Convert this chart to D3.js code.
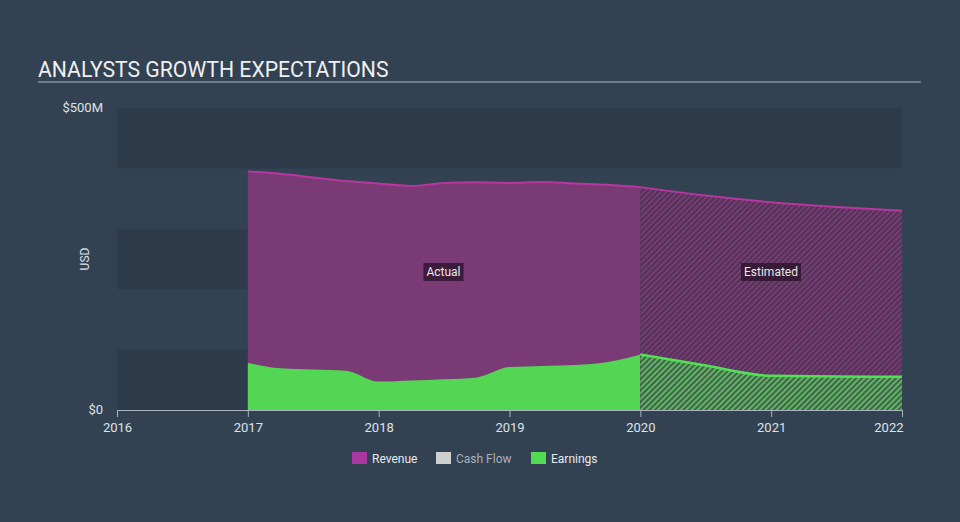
<!DOCTYPE html>
<html>
<head>
<meta charset="utf-8">
<script src="https://cdn.jsdelivr.net/npm/d3@7"></script>
<style>
html,body{margin:0;padding:0;background:#334252;}
svg{display:block;font-family:Roboto,"Open Sans",sans-serif;}
</style>
</head>
<body>
<svg id="chart" width="960" height="522"></svg>
<script>
// ---- data ----
const actualYears = [2017.0,2017.25,2017.5,2017.75,2018.0,2018.25,2018.5,2018.75,2019.0,2019.25,2019.5,2019.75,2020.0];
const actualRevenue = [395,391,385,379,375,371,376,377,376,377.5,375,373,369];
const actualEarnings = [78,69,67,65,47,49,51,54,71,73,74.5,79.5,92];
const estYears = [2020.0,2020.5,2021.0,2021.5,2022.0];
const estRevenue = [369,355,344,336,330];
const estEarnings = [92,73.5,56.5,55.5,55];
const xTicks = [2016,2017,2018,2019,2020,2021,2022];
const yTicks = [0,500];
const yTickLabels = ["$0","$500M"];
const legendNames = ["Revenue","Cash Flow","Earnings"];
const legendColors = ["#a9379f","#cfcfcf","#52dc52"];

(function(){
// ---- layout ----
const svg = d3.select("#chart");
const pL = 117, pR = 902, pT = 108, pB = 410;
const x = d3.scaleLinear().domain([2016,2022]).range([pL,pR]);
const y = d3.scaleLinear().domain([0,500]).range([pB,pT]);

// background
svg.append("rect").attr("width",960).attr("height",522).attr("fill","#334252");

// title
svg.append("text").attr("x",38).attr("y",77).attr("fill","#f0f0f0")
  .attr("font-size",21.2).text("ANALYSTS GROWTH EXPECTATIONS");
svg.append("line").attr("x1",38).attr("x2",921).attr("y1",82).attr("y2",82)
  .attr("stroke","#a9b3bf").attr("stroke-width",1.2);

// bands
const bandEdges = d3.range(0,501,100);
for (let i=0;i<5;i++){
  const v0 = bandEdges[i], v1 = bandEdges[i+1];
  svg.append("rect").attr("x",pL).attr("width",pR-pL)
    .attr("y",y(v1)).attr("height",y(v0)-y(v1))
    .attr("fill", (i%2===0) ? "#2e3b4b" : "#334252");
}

// patterns
const defs = svg.append("defs");
function hatch(id, bg, fg){
  const p = defs.append("pattern").attr("id",id).attr("patternUnits","userSpaceOnUse")
    .attr("width",4).attr("height",4).attr("patternTransform","rotate(45)");
  p.append("rect").attr("width",4).attr("height",4).attr("fill",bg);
  p.append("rect").attr("width",2).attr("height",4).attr("fill",fg);
}
hatch("hRev","#7a3a76","#4e3553");
hatch("hEarn","#5cb85e","#46604f");

const actual = actualYears.map((t,i)=>({t, r:actualRevenue[i], e:actualEarnings[i]}));
const est = estYears.map((t,i)=>({t, r:estRevenue[i], e:estEarnings[i]}));
const curve = d3.curveMonotoneX;

const areaR = d3.area().x(d=>x(d.t)).y0(y(0)).y1(d=>y(d.r)).curve(curve);
const areaE = d3.area().x(d=>x(d.t)).y0(y(0)).y1(d=>y(d.e)).curve(curve);
const lineR = d3.line().x(d=>x(d.t)).y(d=>y(d.r)).curve(curve);
const lineE = d3.line().x(d=>x(d.t)).y(d=>y(d.e)).curve(curve);

// actual
svg.append("path").datum(actual).attr("d",areaR).attr("fill","#7a3a76");
svg.append("path").datum(actual).attr("d",lineR).attr("fill","none").attr("stroke","#b8369f").attr("stroke-width",2);
svg.append("path").datum(actual).attr("d",areaE).attr("fill","#52d654");
// estimated
svg.append("path").datum(est).attr("d",areaR).attr("fill","url(#hRev)");
svg.append("path").datum(est).attr("d",lineR).attr("fill","none").attr("stroke","#b8369f").attr("stroke-width",2);
svg.append("path").datum(est).attr("d",areaE).attr("fill","url(#hEarn)");
svg.append("path").datum(est).attr("d",lineE).attr("fill","none").attr("stroke","#52e054").attr("stroke-width",2.5);

// x axis
const xAxis = d3.axisBottom(x).tickValues(xTicks).tickFormat(d3.format("d")).tickSize(7).tickSizeOuter(0);
const gx = svg.append("g").attr("transform",`translate(0,${pB})`).call(xAxis);
gx.select(".domain").attr("stroke","#aab4c0").attr("stroke-width",1.2);
gx.selectAll(".tick line").attr("stroke","#aab4c0");
gx.selectAll(".tick text").attr("fill","#dde2e8").attr("font-size",13).attr("dy","0.9em")
  .attr("font-family","Roboto,sans-serif");
gx.selectAll(".tick text").filter(d=>d===2022).attr("text-anchor","end").attr("dx","1px");

// y labels
svg.selectAll(".ylab").data(yTicks).enter().append("text")
  .attr("x",103).attr("y",d=>y(d)+4).attr("text-anchor","end")
  .attr("fill","#dde2e8").attr("font-size",13).text((d,i)=>yTickLabels[i]);
svg.append("text").attr("transform",`translate(89,259) rotate(-90)`).attr("text-anchor","middle")
  .attr("fill","#dde2e8").attr("font-size",12).text("USD");

// annotations
function tag(cx, cy, label){
  const g = svg.append("g");
  const t = g.append("text").attr("x",cx).attr("y",cy+4).attr("text-anchor","middle")
    .attr("fill","#e8e8e8").attr("font-size",12).text(label);
  const bb = t.node().getBBox();
  g.insert("rect","text").attr("x",bb.x-3).attr("y",cy-9).attr("width",bb.width+6).attr("height",18)
    .attr("fill","#2a1228").attr("opacity",0.75);
}
tag(443.5,272,"Actual");
tag(771,272,"Estimated");

// legend
const legX = [352,436,531];
legendNames.forEach((n,i)=>{
  svg.append("rect").attr("x",legX[i]).attr("y",452).attr("width",15).attr("height",12).attr("fill",legendColors[i]);
  svg.append("text").attr("x",legX[i]+20).attr("y",462.5).attr("font-size",12)
    .attr("fill", i===1 ? "#a9b0b8" : "#e6e9ec").text(n);
});
})();
</script>
</body>
</html>
